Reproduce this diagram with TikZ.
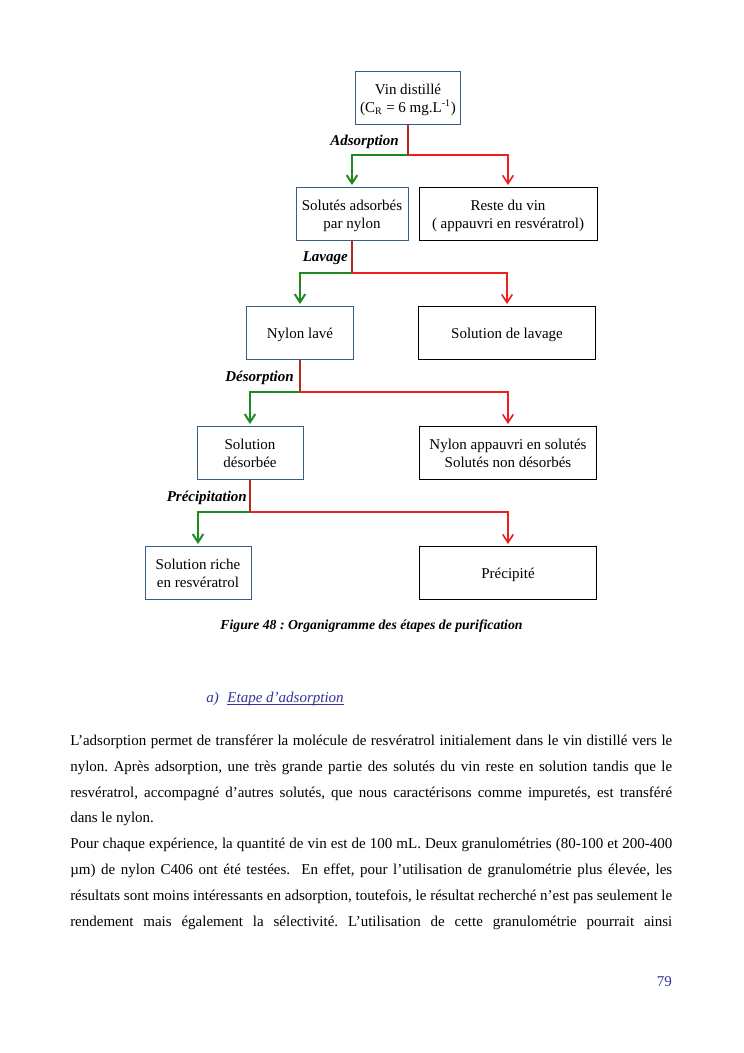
\documentclass[tikz,border=0pt]{standalone}
\usepackage{fontspec}
\setmainfont{Liberation Serif}
\usetikzlibrary{arrows.meta}
\definecolor{boxblue}{HTML}{385D8A}
\definecolor{stemred}{HTML}{B8281E}
\definecolor{brred}{HTML}{F01E1E}
\definecolor{brgreen}{HTML}{1F8A1F}
\definecolor{navy}{HTML}{333399}
\newcommand{\bt}[1]{\raisebox{-1.6pt}[\height][\depth]{\begin{tabular}{@{}c@{}}#1\end{tabular}}}
\begin{document}
\frenchspacing
\begin{tikzpicture}[x=0.8pt,y=-0.8pt,
  box/.style={draw=boxblue, line width=0.8pt, align=center, inner sep=0pt, minimum height=42.4pt, font=\fontsize{12}{14.4}\selectfont},
  blackbox/.style={box, draw=black},
  stem/.style={draw=stemred, line width=1.6pt},
  gbranch/.style={draw=brgreen, line width=1.6pt, shorten >=1.2pt, -{Straight Barb[length=6.5pt,width=8.5pt]}},
  rbranch/.style={draw=brred, line width=1.3pt, shorten >=1.2pt, -{Straight Barb[length=6.5pt,width=8.5pt]}},
  steplabel/.style={font=\fontsize{12}{14}\selectfont\bfseries\itshape, anchor=east, inner sep=0pt},
  body/.style={anchor=base west, inner sep=0pt, font=\fontsize{12}{14}\selectfont}
]
\fill[white] (0,0) rectangle (744,1053);
\useasboundingbox (0,0) rectangle (744,1053);

% boxes
\node[box, minimum width=84pt] (vin) at (408,97.5) {\bt{Vin distillé\\(C\textsubscript{R} = 6 mg.L\textsuperscript{-1})}};
\node[box, minimum width=89.6pt] (sol) at (352,213.5) {\bt{Solutés adsorbés\\par nylon}};
\node[blackbox, minimum width=142.4pt] (reste) at (508,213.5) {\bt{Reste du vin\\( appauvri en resvératrol)}};
\node[box, minimum width=85.6pt] (nyl) at (300,332.5) {\bt{Nylon lavé}};
\node[blackbox, minimum width=141.6pt] (lav) at (507,332.5) {\bt{Solution de lavage}};
\node[box, minimum width=84.8pt] (des) at (250,452.5) {\bt{Solution\\désorbée}};
\node[blackbox, minimum width=141.6pt] (app) at (508,452.5) {\bt{Nylon appauvri en solutés\\Solutés non désorbés}};
\node[box, minimum width=84.8pt] (riche) at (198,572.5) {\bt{Solution riche\\en resvératrol}};
\node[blackbox, minimum width=141.6pt] (prec) at (508,572.5) {\bt{Précipité}};

% junctions
\coordinate (j1) at (vin.south |- 0,155);
\coordinate (j2) at (sol.south |- 0,273);
\coordinate (j3) at (nyl.south |- 0,392);
\coordinate (j4) at (des.south |- 0,512);

\draw[gbranch] (j1) -| (sol.north);
\draw[rbranch] (j1) -| (reste.north);
\draw[stem] (vin.south) -- (j1);
\draw[gbranch] (j2) -| (nyl.north);
\draw[rbranch] (j2) -| (lav.north);
\draw[stem] (sol.south) -- (j2);
\draw[gbranch] (j3) -| (des.north);
\draw[rbranch] (j3) -| (app.north);
\draw[stem] (nyl.south) -- (j3);
\draw[gbranch] (j4) -| (riche.north);
\draw[rbranch] (j4) -| (prec.north);
\draw[stem] (des.south) -- (j4);

% step labels
\node[steplabel] (l1) at (399,141.5) {Adsorption};
\node[steplabel] (l2) at (348,258.5) {Lavage};
\node[steplabel] (l3) at (294,377.5) {Désorption};
\node[steplabel] (l4) at (247,497.5) {Précipitation};

% caption
\node[inner sep=0pt, font=\fontsize{11}{13}\selectfont\bfseries\itshape] (cap) at (371.5,626) {Figure 48 : Organigramme des étapes de purification};

% heading
\node[anchor=base west, inner sep=0pt, text=navy, font=\fontsize{12}{14}\selectfont\itshape] (head) at (206,702.5) {a)\hspace{7pt}\underline{\smash{Etape d’adsorption}}};

% body text
\node[body] (t1) at (70,745.5) {\makebox[481.6pt][s]{L’adsorption permet de transférer la molécule de resvératrol initialement dans le vin distillé vers le}};
\node[body] (t2) at (70,771.3) {\makebox[481.6pt][s]{nylon. Après adsorption, une très grande partie des solutés du vin reste en solution tandis que le}};
\node[body] (t3) at (70,797.1) {\makebox[481.6pt][s]{resvératrol, accompagné d’autres solutés, que nous caractérisons comme impuretés, est transféré}};
\node[body] (t4) at (70,822.9) {dans le nylon.};
\node[body] (t5) at (70,848.7) {\makebox[481.6pt][s]{Pour chaque expérience, la quantité de vin est de 100 mL. Deux granulométries (80-100 et 200-400}};
\node[body] (t6) at (70,874.5) {\makebox[481.6pt][s]{µm) de nylon C406 ont été testées.\ \ En effet, pour l’utilisation de granulométrie plus élevée, les}};
\node[body] (t7) at (70,900.3) {\makebox[481.6pt][s]{résultats sont moins intéressants en adsorption, toutefois, le résultat recherché n’est pas seulement le}};
\node[body] (t8) at (70,926.1) {\makebox[481.6pt][s]{rendement mais également la sélectivité. L’utilisation de cette granulométrie pourrait ainsi}};

% page number
\node[anchor=base east, inner sep=0pt, text=navy, font=\fontsize{12}{14}\selectfont] (pg) at (672,986.5) {79};
\end{tikzpicture}
\end{document}
